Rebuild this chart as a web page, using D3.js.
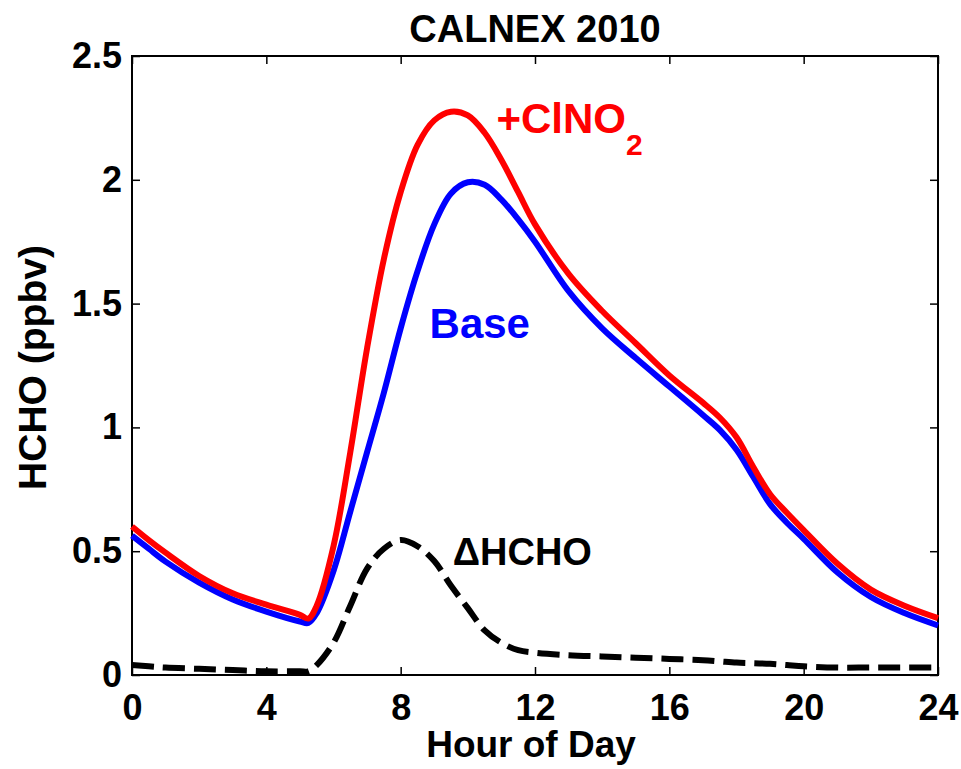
<!DOCTYPE html>
<html>
<head>
<meta charset="utf-8">
<script src="https://cdn.jsdelivr.net/npm/d3@7"></script>
<style>
  body { margin: 0; background: #fff; }
  text { font-family: Arial, "Liberation Sans", sans-serif; font-weight: bold; }
</style>
</head>
<body>
<div id="chart"></div>
<script>
// hour of day
var hours = [0, 0.5, 1, 2, 3, 4, 5, 5.25, 5.5, 6, 6.5, 7, 7.5, 8, 8.5, 9, 9.5, 10, 10.5,
  11, 11.5, 12, 13, 14, 15, 16, 17, 17.5, 18, 18.5, 19, 19.5, 20, 21, 22, 23, 24];
// +ClNO2 run
var withClNO2 = [0.60, 0.545, 0.494, 0.40, 0.33, 0.284, 0.243, 0.228, 0.28, 0.52, 0.90, 1.32, 1.68, 1.95, 2.14,
  2.24, 2.275, 2.26, 2.19, 2.08, 1.95, 1.82, 1.62, 1.47, 1.34, 1.21, 1.10, 1.04, 0.96, 0.84, 0.73, 0.655, 0.585,
  0.45, 0.345, 0.28, 0.23];
// base run
var baseRun = [0.563, 0.51, 0.458, 0.373, 0.305, 0.256, 0.216, 0.21, 0.25, 0.42, 0.66, 0.90, 1.14, 1.40, 1.63,
  1.82, 1.945, 1.99, 1.98, 1.92, 1.84, 1.75, 1.55, 1.40, 1.28, 1.165, 1.05, 0.99, 0.91, 0.80, 0.69, 0.615, 0.55,
  0.415, 0.315, 0.25, 0.20];
// difference
var deltaHCHO = [0.04, 0.035, 0.03, 0.025, 0.02, 0.015, 0.015, 0.015, 0.04, 0.13, 0.28, 0.43, 0.51, 0.545, 0.52,
  0.46, 0.36, 0.27, 0.18, 0.13, 0.10, 0.09, 0.08, 0.075, 0.07, 0.065, 0.06, 0.055, 0.05, 0.048, 0.045, 0.04, 0.035,
  0.03, 0.03, 0.03, 0.03];
var xTicks = [0, 4, 8, 12, 16, 20, 24];
var yTicks = [0, 0.5, 1, 1.5, 2, 2.5];

var width = 961, height = 769;
var plotLeft = 132, plotRight = 938, plotTop = 56, plotBottom = 675;

var svg = d3.select("#chart").append("svg")
    .attr("width", width)
    .attr("height", height);

var x = d3.scaleLinear().domain([0, 24]).range([plotLeft, plotRight]);
var y = d3.scaleLinear().domain([0, 2.5]).range([plotBottom, plotTop]);

var fmtY = function (d) { return d === 0 ? "0" : d3.format("")(d); };

// axes, ticks pointing inward
var gx = svg.append("g")
    .attr("transform", "translate(0," + plotBottom + ")")
    .call(d3.axisBottom(x).tickValues(xTicks).tickSizeInner(-8).tickSizeOuter(0).tickPadding(19));
var gxTop = svg.append("g")
    .attr("transform", "translate(0," + plotTop + ")")
    .call(d3.axisTop(x).tickValues(xTicks).tickSizeInner(-8).tickSizeOuter(0).tickFormat(""));
var gy = svg.append("g")
    .attr("transform", "translate(" + plotLeft + ",0)")
    .call(d3.axisLeft(y).tickValues(yTicks).tickSizeInner(-8).tickSizeOuter(0).tickPadding(10).tickFormat(fmtY));
var gyRight = svg.append("g")
    .attr("transform", "translate(" + plotRight + ",0)")
    .call(d3.axisRight(y).tickValues(yTicks).tickSizeInner(-8).tickSizeOuter(0).tickFormat(""));

[gx, gxTop, gy, gyRight].forEach(function (g) {
    g.select(".domain").remove();
    g.selectAll(".tick line").attr("stroke", "#000").attr("stroke-width", 1.5);
    g.selectAll(".tick text")
        .attr("fill", "#000")
        .style("font-size", "36px")
        .style("font-family", "Arial, 'Liberation Sans', sans-serif");
});

svg.append("rect")
    .attr("x", plotLeft)
    .attr("y", plotTop)
    .attr("width", plotRight - plotLeft)
    .attr("height", plotBottom - plotTop)
    .attr("fill", "none")
    .attr("stroke", "#000")
    .attr("stroke-width", 2);

var rows = hours.map(function (h, i) {
    return { h: h, red: withClNO2[i], blue: baseRun[i], delta: deltaHCHO[i] };
});

var lineOf = function (key) {
    return d3.line()
        .x(function (d) { return x(d.h); })
        .y(function (d) { return y(d[key]); })
        .curve(d3.curveCatmullRom.alpha(0.5));
};

svg.append("path")
    .datum(rows)
    .attr("d", lineOf("delta"))
    .attr("fill", "none")
    .attr("stroke", "#000")
    .attr("stroke-width", 6)
    .attr("stroke-dasharray", "22,9");

svg.append("path")
    .datum(rows)
    .attr("d", lineOf("blue"))
    .attr("fill", "none")
    .attr("stroke", "#0000ff")
    .attr("stroke-width", 6)
    .attr("stroke-linejoin", "round");

svg.append("path")
    .datum(rows)
    .attr("d", lineOf("red"))
    .attr("fill", "none")
    .attr("stroke", "#ff0000")
    .attr("stroke-width", 6)
    .attr("stroke-linejoin", "round");

// titles
svg.append("text")
    .text("CALNEX 2010")
    .attr("x", (plotLeft + plotRight) / 2)
    .attr("y", 42)
    .attr("text-anchor", "middle")
    .style("font-size", "38px");

svg.append("text")
    .text("Hour of Day")
    .attr("x", (plotLeft + plotRight) / 2 - 4)
    .attr("y", 757)
    .attr("text-anchor", "middle")
    .style("font-size", "37px");

svg.append("text")
    .text("HCHO (ppbv)")
    .attr("transform", "translate(46," + ((plotTop + plotBottom) / 2 + 2) + ") rotate(-90)")
    .attr("text-anchor", "middle")
    .style("font-size", "39px");

// annotations
var redLabel = svg.append("text")
    .attr("x", x(10.85))
    .attr("y", y(2.19))
    .attr("fill", "#ff0000")
    .style("font-size", "42px");
redLabel.append("tspan").text("+ClNO");
redLabel.append("tspan").text("2").attr("dy", 22).style("font-size", "30px");

svg.append("text")
    .text("Base")
    .attr("x", x(8.86))
    .attr("y", y(1.36))
    .attr("fill", "#0000ff")
    .style("font-size", "42px");

svg.append("text")
    .text("ΔHCHO")
    .attr("x", x(9.55))
    .attr("y", y(0.445))
    .attr("fill", "#000")
    .style("font-size", "38px");
</script>
</body>
</html>
